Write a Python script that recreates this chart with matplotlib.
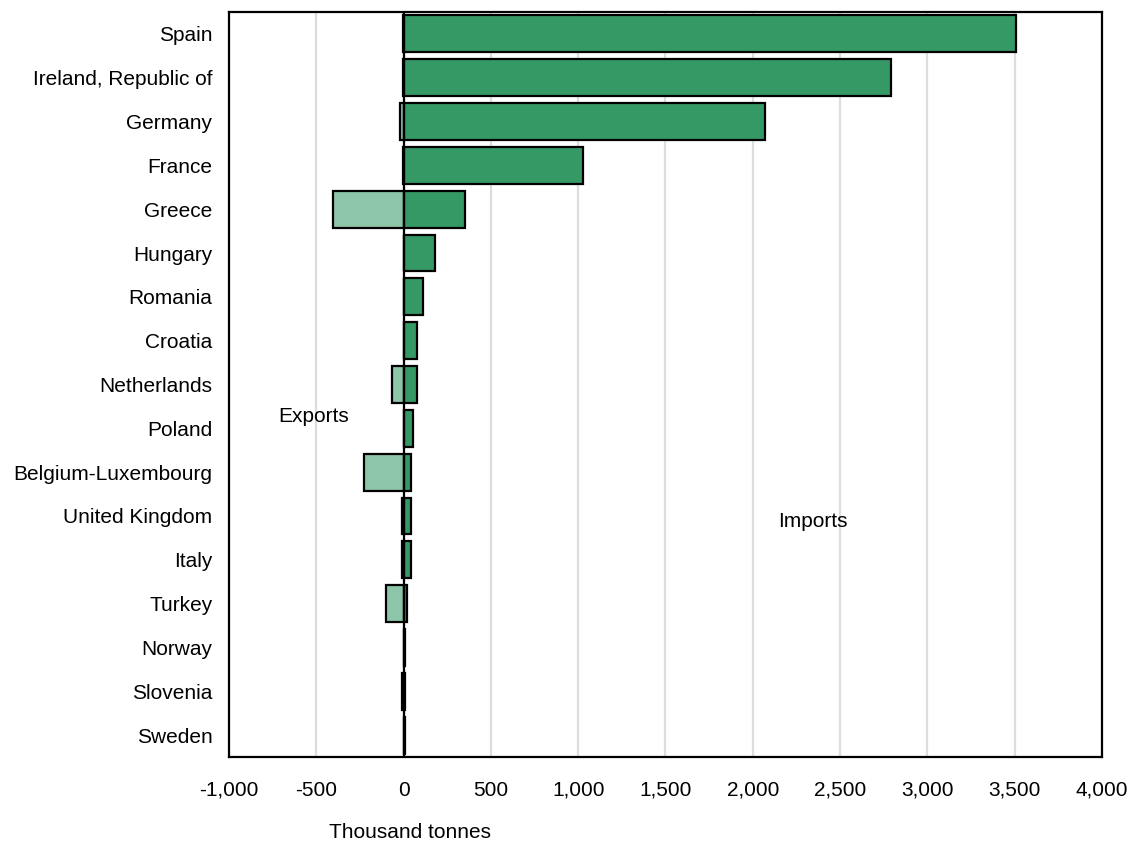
import numpy as np
from matplotlib import pyplot as plt
from matplotlib.ticker import FuncFormatter

plt.rcParams['font.family'] = ['Liberation Sans', 'DejaVu Sans']

# Data (thousand tonnes)
countries = ["Spain", "Ireland, Republic of", "Germany", "France", "Greece",
             "Hungary", "Romania", "Croatia", "Netherlands", "Poland",
             "Belgium-Luxembourg", "United Kingdom", "Italy", "Turkey",
             "Norway", "Slovenia", "Sweden"]
imports = [3510, 2790, 2070, 1025, 350, 178, 110, 75, 75, 54, 43, 43, 43, 20, 10, 8, 8]
exports = [-6, -6, -18, -5, -405, 0, 0, 0, -64, 0, -224, -7, -7, -98, 0, -9, 0]

imp_color = "#359966"
exp_color = "#8cc5a8"

fig = plt.figure(figsize=(11.33, 8.43), dpi=100)
ax = fig.add_axes([0.2021, 0.102, 0.7705, 0.8838])

y = np.arange(len(countries))
ax.barh(y, exports, height=0.84, color=exp_color, edgecolor="black", linewidth=1.6, zorder=3)
ax.barh(y, imports, height=0.84, color=imp_color, edgecolor="black", linewidth=1.6, zorder=3)
ax.axvline(0, color="black", linewidth=1.6, zorder=4)

ax.set_xlim(-1000, 4000)
ax.set_ylim(len(countries) - 0.5, -0.5)
ax.set_xticks(np.arange(-1000, 4001, 500))
ax.xaxis.set_major_formatter(FuncFormatter(lambda v, p: f"{int(v):,}"))
ax.set_yticks(y)
ax.set_yticklabels(countries)
ax.tick_params(axis="both", length=0, labelsize=15)
ax.tick_params(axis="y", pad=12)
ax.tick_params(axis="x", pad=17)
ax.grid(axis="x", color="#dddddd", linewidth=1.6, zorder=0)
for s in ax.spines.values():
    s.set_linewidth(1.6)

ax.text(-518, 8.72, "Exports", fontsize=15, ha="center", va="center")
ax.text(2343, 11.12, "Imports", fontsize=15, ha="center", va="center")
fig.text(410 / 1133, 1 - 832 / 843, "Thousand tonnes", fontsize=15, ha="center", va="center")

plt.savefig("out.png", dpi=100)
